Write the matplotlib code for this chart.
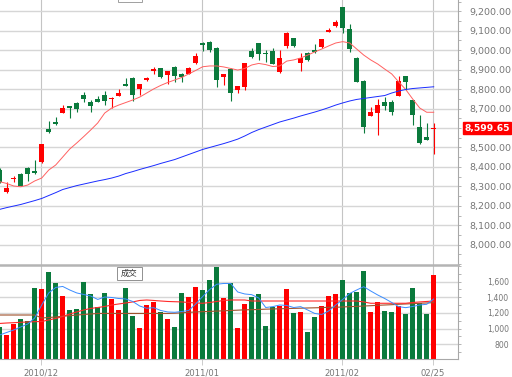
import numpy as np
import matplotlib
matplotlib.use("Agg")
import matplotlib.pyplot as plt
from matplotlib.patches import Rectangle
from matplotlib.ticker import FixedLocator, MultipleLocator, FuncFormatter

# daily candles, oldest first (last bar = 02/25)
opens = [8384, 8272, 8337, 8366, 8393, 8379, 8424, 8595, 8629, 8677,
         8713, 8727, 8770, 8735, 8748, 8770, 8748, 8766, 8828, 8859,
         8800, 8847, 8893, 8907, 8871, 8915, 8876, 8878, 8933, 9039,
         9044, 9013, 8864, 8903, 8795, 8809, 8994, 9035, 8987, 8997,
         8889, 9023, 9061, 8936, 8984, 9001, 9015, 9095, 9126, 9220,
         9107, 8958, 8842, 8663, 8676, 8735, 8735, 8765, 8867, 8744,
         8604, 8555, 8593]
highs = [8392, 8325, 8351, 8370, 8401, 8438, 8518, 8637, 8658, 8718,
         8715, 8735, 8783, 8744, 8766, 8790, 8757, 8799, 8859, 8861,
         8828, 8864, 8912, 8910, 8895, 8918, 8881, 8912, 8987, 9041,
         9047, 9015, 8880, 8907, 8816, 8935, 9010, 9037, 9001, 9011,
         9001, 9095, 9065, 8984, 8990, 9032, 9058, 9115, 9155, 9222,
         9135, 8967, 8845, 8710, 8749, 8761, 8744, 8867, 8869, 8746,
         8667, 8624, 8627]
lows = [8318, 8268, 8322, 8300, 8329, 8363, 8422, 8572, 8615, 8675,
        8653, 8684, 8735, 8684, 8735, 8718, 8701, 8764, 8815, 8738,
        8770, 8842, 8876, 8858, 8826, 8838, 8838, 8876, 8931, 8997,
        8992, 8812, 8821, 8740, 8778, 8795, 8958, 8950, 8938, 8928,
        8884, 9010, 9015, 8895, 8945, 8984, 9013, 9093, 9121, 9087,
        8992, 8835, 8573, 8661, 8564, 8692, 8667, 8763, 8795, 8616,
        8520, 8536, 8467]
closes = [8324, 8293, 8345, 8303, 8363, 8367, 8516, 8581, 8620, 8702,
          8704, 8698, 8749, 8715, 8735, 8740, 8755, 8781, 8817, 8770,
          8826, 8859, 8901, 8861, 8893, 8869, 8864, 8907, 8972, 9028,
          9001, 8847, 8878, 8781, 8814, 8933, 8967, 8980, 8980, 8928,
          8960, 9087, 9023, 8958, 8950, 8992, 9056, 9103, 9147, 9113,
          9005, 8838, 8607, 8684, 8718, 8713, 8684, 8842, 8838, 8667,
          8524, 8538, 8599.65]

ma_short = [8324, 8315, 8302, 8298, 8307, 8328, 8343, 8384, 8410, 8451,
            8492, 8523, 8556, 8590, 8626, 8677, 8703, 8718, 8731, 8744,
            8759, 8780, 8801, 8819, 8834, 8847, 8860, 8878, 8896, 8915,
            8919, 8919, 8914, 8906, 8898, 8906, 8924, 8932, 8926, 8916,
            8919, 8944, 8950, 8960, 8975, 8991, 9006, 9022, 9037, 9044,
            9037, 9006, 8975, 8950, 8929, 8903, 8878, 8837, 8798, 8749,
            8703, 8681, 8681]
ma_long = [8182, 8191, 8199, 8207, 8217, 8227, 8238, 8253, 8268, 8284,
           8294, 8304, 8312, 8320, 8328, 8335, 8343, 8353, 8366, 8376,
           8387, 8397, 8407, 8418, 8428, 8438, 8451, 8464, 8477, 8490,
           8500, 8510, 8520, 8531, 8543, 8559, 8577, 8592, 8605, 8618,
           8631, 8641, 8651, 8662, 8672, 8682, 8693, 8705, 8718, 8729,
           8739, 8747, 8752, 8757, 8762, 8767, 8780, 8790, 8798, 8803,
           8806, 8809, 8812]

volume = [1025, 919, 1059, 1123, 1102, 1516, 1503, 1720, 1583, 1421,
          1238, 1251, 1600, 1443, 1273, 1459, 1379, 1238, 1519, 1162,
          1004, 1302, 1341, 1217, 1123, 1025, 1459, 1408, 1532, 1494,
          1618, 1784, 1388, 1580, 1012, 1315, 1401, 1447, 1038, 1281,
          1293, 1511, 1200, 1217, 957, 1145, 1289, 1417, 1439, 1622,
          1459, 1472, 1737, 1209, 1341, 1226, 1217, 1293, 1183, 1516,
          1324, 1183, 1686]
vol_ma5 = [919, 951, 983, 1021, 1059, 1136, 1302, 1456, 1526, 1539,
           1494, 1456, 1436, 1417, 1373, 1404, 1398, 1385, 1379, 1347,
           1289, 1260, 1268, 1232, 1213, 1209, 1219, 1232, 1315, 1411,
           1500, 1567, 1577, 1577, 1468, 1443, 1434, 1392, 1270, 1281,
           1302, 1296, 1270, 1281, 1238, 1194, 1181, 1226, 1302, 1373,
           1449, 1494, 1536, 1481, 1430, 1385, 1334, 1281, 1268, 1283,
           1302, 1311, 1379]
vol_ma20 = [1066, 1072, 1076, 1081, 1085, 1089, 1091, 1111, 1130, 1155,
            1187, 1213, 1238, 1258, 1270, 1283, 1302, 1315, 1328, 1341,
            1360, 1366, 1360, 1353, 1347, 1344, 1341, 1334, 1328, 1324,
            1334, 1347, 1360, 1366, 1366, 1366, 1353, 1353, 1353, 1353,
            1353, 1353, 1353, 1353, 1353, 1353, 1353, 1353, 1353, 1353,
            1353, 1353, 1341, 1324, 1324, 1324, 1324, 1324, 1324, 1334,
            1341, 1347, 1353]
vol_ma60 = [1174, 1174, 1174, 1174, 1174, 1174, 1136, 1142, 1149, 1158,
            1166, 1174, 1181, 1187, 1194, 1194, 1194, 1194, 1194, 1194,
            1194, 1194, 1194, 1194, 1194, 1197, 1202, 1208, 1213, 1217,
            1220, 1224, 1228, 1232, 1236, 1240, 1242, 1245, 1249, 1251,
            1254, 1256, 1259, 1261, 1264, 1266, 1269, 1272, 1273, 1277,
            1281, 1284, 1289, 1293, 1298, 1302, 1306, 1311, 1315, 1319,
            1324, 1328, 1332]

month_pos = [6, 29, 49, 62]
month_labels = ["2010/12", "2011/01", "2011/02", "02/25"]

RED = "#ff0000"
GREEN = "#0a7a3c"
GRID = "#d6d6d6"
VGRID = "#c4c4c4"
TXT = "#767676"

x = np.arange(len(closes))
o = np.array(opens)
c = np.array(closes)
up = c >= o
cols = [RED if u else GREEN for u in up]

fig = plt.figure(figsize=(5.12, 3.77), dpi=100)
W, H = 512.0, 377.0
ax1 = fig.add_axes([0, (H - 265) / H, 458 / W, 265 / H])
ax2 = fig.add_axes([0, (H - 359) / H, 458 / W, 94 / H])

for ax in (ax1, ax2):
    ax.set_xlim(0.04, 65.47)
    for s in ("left", "top", "bottom"):
        ax.spines[s].set_visible(False)
    ax.spines["right"].set_color("#a8a8a8")
    ax.spines["right"].set_linewidth(0.8)
    ax.yaxis.tick_right()
    for m in month_pos:
        ax.axvline(m - 0.15, color=VGRID, lw=0.8, zorder=0)

# price panel
ax1.set_ylim(7896, 9258)
for lvl in range(8000, 9300, 100):
    ax1.axhline(lvl, color=GRID, lw=1.0, zorder=0)
ax1.yaxis.set_major_locator(FixedLocator(list(range(8000, 9300, 100))))
ax1.yaxis.set_minor_locator(MultipleLocator(50))
ax1.yaxis.set_major_formatter(FuncFormatter(lambda v, p: "" if v == 8600 else "{:,.2f}".format(v)))
ax1.tick_params(axis="y", which="both", direction="out", length=2.5, width=0.6,
                color="#a8a8a8", labelsize=6.8, labelcolor=TXT, pad=36)
for t in ax1.get_yticklabels():
    t.set_horizontalalignment("right")
ax1.set_xticks([])

ax1.vlines(x, lows, highs, colors=cols, lw=0.8, zorder=2)
body_lo = np.minimum(o, c)
body_h = np.maximum(np.abs(c - o), 6)
ax1.bar(x, body_h, bottom=body_lo, width=0.76, color=cols, lw=0, zorder=3)
ax1.plot(x, ma_short, color="#ff6060", lw=0.7, zorder=4)
ax1.plot(x, ma_long, color="#1a2cff", lw=0.7, zorder=4)

ax1.annotate("{:,.2f}".format(closes[-1]), xy=(1, closes[-1]),
             xycoords=("axes fraction", "data"), xytext=(52, 0),
             textcoords="offset pixels", ha="right", va="center",
             fontsize=6.6, fontweight="bold", color="white", annotation_clip=False,
             bbox=dict(boxstyle="square,pad=0.12", fc=RED, ec=RED))

# volume panel
ax2.set_ylim(612, 1813)
for lvl in range(800, 1800, 200):
    ax2.axhline(lvl, color=GRID, lw=1.0, zorder=0)
ax2.spines["top"].set_visible(True)
ax2.spines["top"].set_color("#b4b4b4")
ax2.spines["top"].set_linewidth(1.8)
ax2.spines["bottom"].set_visible(True)
ax2.spines["bottom"].set_color("#a8a8a8")
ax2.spines["bottom"].set_linewidth(0.8)
ax2.yaxis.set_major_locator(FixedLocator(list(range(800, 1800, 200))))
ax2.yaxis.set_minor_locator(MultipleLocator(100))
ax2.yaxis.set_major_formatter(FuncFormatter(lambda v, p: "{:,.0f}".format(v)))
ax2.tick_params(axis="y", which="both", direction="out", length=2.5, width=0.6,
                color="#a8a8a8", labelsize=5.6, labelcolor=TXT, pad=34)
for t in ax2.get_yticklabels():
    t.set_horizontalalignment("right")
ax2.set_xticks([m - 0.15 for m in month_pos])
ax2.set_xticklabels(month_labels)
ax2.tick_params(axis="x", direction="out", length=4.5, width=0.6, color=VGRID,
                labelsize=6.1, labelcolor=TXT, pad=2.5)

ax2.bar(x, volume, width=0.74, color=cols, lw=0, zorder=2)
ax2.plot(x, vol_ma60, color="#a0522d", lw=0.8, zorder=3)
ax2.plot(x, vol_ma20, color="#ff2a2a", lw=0.8, zorder=3)
ax2.plot(x, vol_ma5, color="#3a8cff", lw=0.7, zorder=3)

# legend boxes
fig.patches.append(Rectangle((118 / W, (H - 1.7) / H), 24 / W, 0.05,
                             transform=fig.transFigure, fc="white", ec="#a0a0a0", lw=0.7))
fig.patches.append(Rectangle((116.7 / W, (H - 280) / H), 25 / W, 13.3 / H,
                             transform=fig.transFigure, fc="white", ec="#909090", lw=0.7, zorder=5))
fig.text(129.2 / W, (H - 273.3) / H, "成交", ha="center", va="center", fontsize=6,
         color="#333333", family=["Noto Sans CJK TC", "DejaVu Sans"], zorder=6)

fig.savefig("out.png", dpi=100)
